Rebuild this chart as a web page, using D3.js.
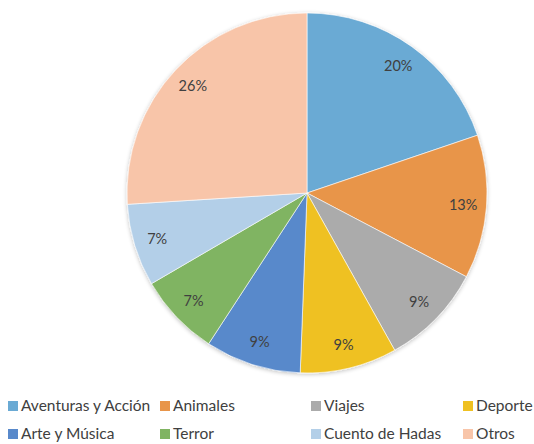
<!DOCTYPE html>
<html><head><meta charset="utf-8">
<script src="https://cdn.jsdelivr.net/npm/d3@7"></script>
<style>body{margin:0;background:#fff}svg{display:block}</style>
</head><body>
<svg id="c" width="534" height="444"></svg>
<script>
const categories = ["Aventuras y Acción","Animales","Viajes","Deporte","Arte y Música","Terror","Cuento de Hadas","Otros"];
const values = [19.8, 12.9, 9.2, 8.7, 8.6, 7.4, 7.4, 26.0];
const colors = ["#6AAAD4","#E8954A","#ABABAB","#EFC122","#5889CB","#80B462","#B3CFE8","#F8C5A9"];
const legendCols = [8, 160, 311, 463];

const svg = d3.select("#c");
const cx = 307, cy = 193, r = 180;
const defs = svg.append("defs");
const f = defs.append("filter").attr("id","sh").attr("x","-10%").attr("y","-10%").attr("width","120%").attr("height","120%");
f.append("feGaussianBlur").attr("in","SourceAlpha").attr("stdDeviation",2);
f.append("feOffset").attr("dx",0).attr("dy",1).attr("result","b");
f.append("feComponentTransfer").append("feFuncA").attr("type","linear").attr("slope",0.25);
const m = f.append("feMerge"); m.append("feMergeNode"); m.append("feMergeNode").attr("in","SourceGraphic");

const data = categories.map((c,i)=>({c, v:values[i], col:colors[i]}));
const pie = d3.pie().value(d=>d.v).sort(null);
const arcs = pie(data);
const arc = d3.arc().innerRadius(0).outerRadius(r);
const labelArc = d3.arc().innerRadius(r*0.87).outerRadius(r*0.87);
const total = d3.sum(values);
const g = svg.append("g").attr("transform",`translate(${cx},${cy})`);
g.append("g").attr("filter","url(#sh)").selectAll("path").data(arcs).join("path")
  .attr("d",arc).attr("fill",d=>d.data.col).attr("stroke","#fff").attr("stroke-width",0.6);
g.selectAll("text").data(arcs).join("text")
  .attr("transform",d=>`translate(${labelArc.centroid(d)})`)
  .attr("text-anchor","middle").attr("dy","0.35em")
  .attr("font-family","Lato, 'Open Sans', sans-serif").attr("font-size",14.5).attr("fill","#404040")
  .text(d=>Math.round(d.data.v/total*100)+"%");

const leg = svg.append("g");
data.forEach((d,i)=>{
  const x = legendCols[i%4], y = i<4 ? 406 : 434;
  leg.append("rect").attr("x",x).attr("y",y-5).attr("width",10).attr("height",10).attr("fill",d.col);
  leg.append("text").attr("x",x+13).attr("y",y).attr("dy","0.35em")
    .attr("font-family","Lato, 'Open Sans', sans-serif").attr("font-size",15.5).attr("fill","#404040").text(d.c);
});
</script>
</body></html>
